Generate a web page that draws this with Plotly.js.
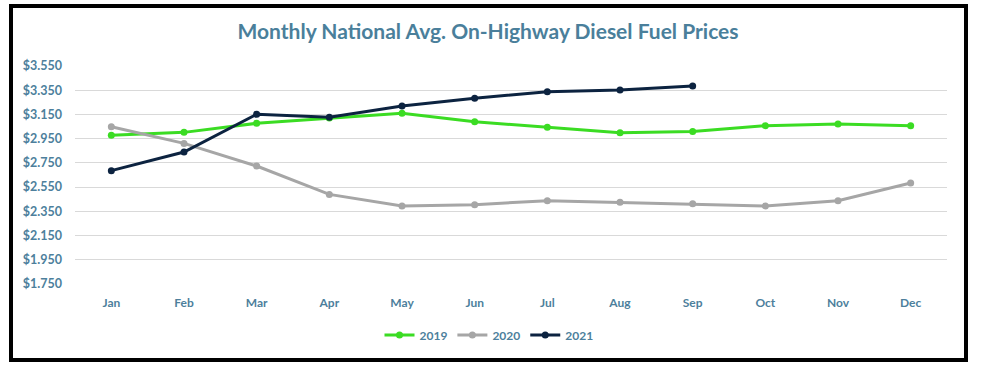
<!DOCTYPE html>
<html>
<head>
<meta charset="utf-8">
<script src="https://cdn.plot.ly/plotly-3.0.1.min.js"></script>
<style>
  html, body { margin: 0; padding: 0; background: #ffffff; }
  #wrap { position: relative; width: 981px; height: 366px; }
  #chart { position: absolute; left: 0; top: 0; width: 981px; height: 366px; }
  #frame { position: absolute; left: 9px; top: 4px; width: 951px; height: 350px;
           border: 4px solid #000000; pointer-events: none; }
</style>
</head>
<body>
<div id="wrap">
  <div id="chart"></div>
  <div id="frame"></div>
</div>
<script>
const months = ["Jan","Feb","Mar","Apr","May","Jun","Jul","Aug","Sep","Oct","Nov","Dec"];
const prices2019 = [2.978, 3.002, 3.077, 3.121, 3.159, 3.090, 3.044, 2.999, 3.010, 3.057, 3.071, 3.057];
const prices2020 = [3.049, 2.911, 2.724, 2.490, 2.394, 2.405, 2.438, 2.424, 2.413, 2.394, 2.438, 2.584];
const prices2021 = [2.686, 2.840, 3.151, 3.126, 3.220, 3.283, 3.338, 3.352, 3.385];
const yTicks = [1.75, 1.95, 2.15, 2.35, 2.55, 2.75, 2.95, 3.15, 3.35, 3.55];
const seriesNames = ["2019", "2020", "2021"];

const FONT = "Lato, 'Open Sans', sans-serif";
const TXT = "#4d7f9c";
const colors = ["#3bdc23", "#a6a6a6", "#0c2340"];
const allSeries = [prices2019, prices2020, prices2021];

const traces = allSeries.map((vals, i) => ({
  type: "scatter",
  mode: "lines+markers",
  name: seriesNames[i],
  x: months.slice(0, vals.length),
  y: vals,
  line: { color: colors[i], width: 3 },
  marker: { color: colors[i], size: 7 },
  hoverinfo: "skip"
}));

const layout = {
  width: 981,
  height: 366,
  margin: { l: 75, r: 34, t: 66, b: 82 },
  paper_bgcolor: "#ffffff",
  plot_bgcolor: "#ffffff",
  font: { family: FONT, color: TXT },
  title: {
    text: "<b>Monthly National Avg. On-Highway Diesel Fuel Prices</b>",
    font: { family: FONT, size: 21, color: "#4a7f9b" },
    xref: "container", x: 0.4975, xanchor: "center",
    yref: "container", y: 1 - 32 / 366, yanchor: "middle"
  },
  xaxis: {
    type: "category",
    categoryorder: "array",
    categoryarray: months,
    range: [-0.5, 11.5],
    showgrid: false,
    zeroline: false,
    showline: false,
    ticks: "",
    tickfont: { family: FONT, size: 12, color: TXT, weight: "bold" },
    ticklabelstandoff: 10
  },
  yaxis: {
    range: [1.75, 3.55],
    tickmode: "array",
    tickvals: yTicks,
    ticktext: yTicks.map(v => "$" + v.toFixed(3)),
    showgrid: true,
    gridcolor: "#d9d9d9",
    gridwidth: 1,
    zeroline: false,
    showline: false,
    ticks: "",
    tickfont: { family: FONT, size: 12.5, color: TXT, weight: "bold" },
    ticklabelstandoff: 12
  },
  showlegend: true,
  legend: {
    orientation: "h",
    x: (489 - 75) / 872, xanchor: "center",
    y: (284 - 335) / 218, yanchor: "middle",
    font: { family: FONT, size: 12, color: TXT, weight: "bold" },
    itemwidth: 30,
    tracegroupgap: 0
  }
};

Plotly.newPlot("chart", traces, layout, { staticPlot: true, displayModeBar: false });
</script>
</body>
</html>
